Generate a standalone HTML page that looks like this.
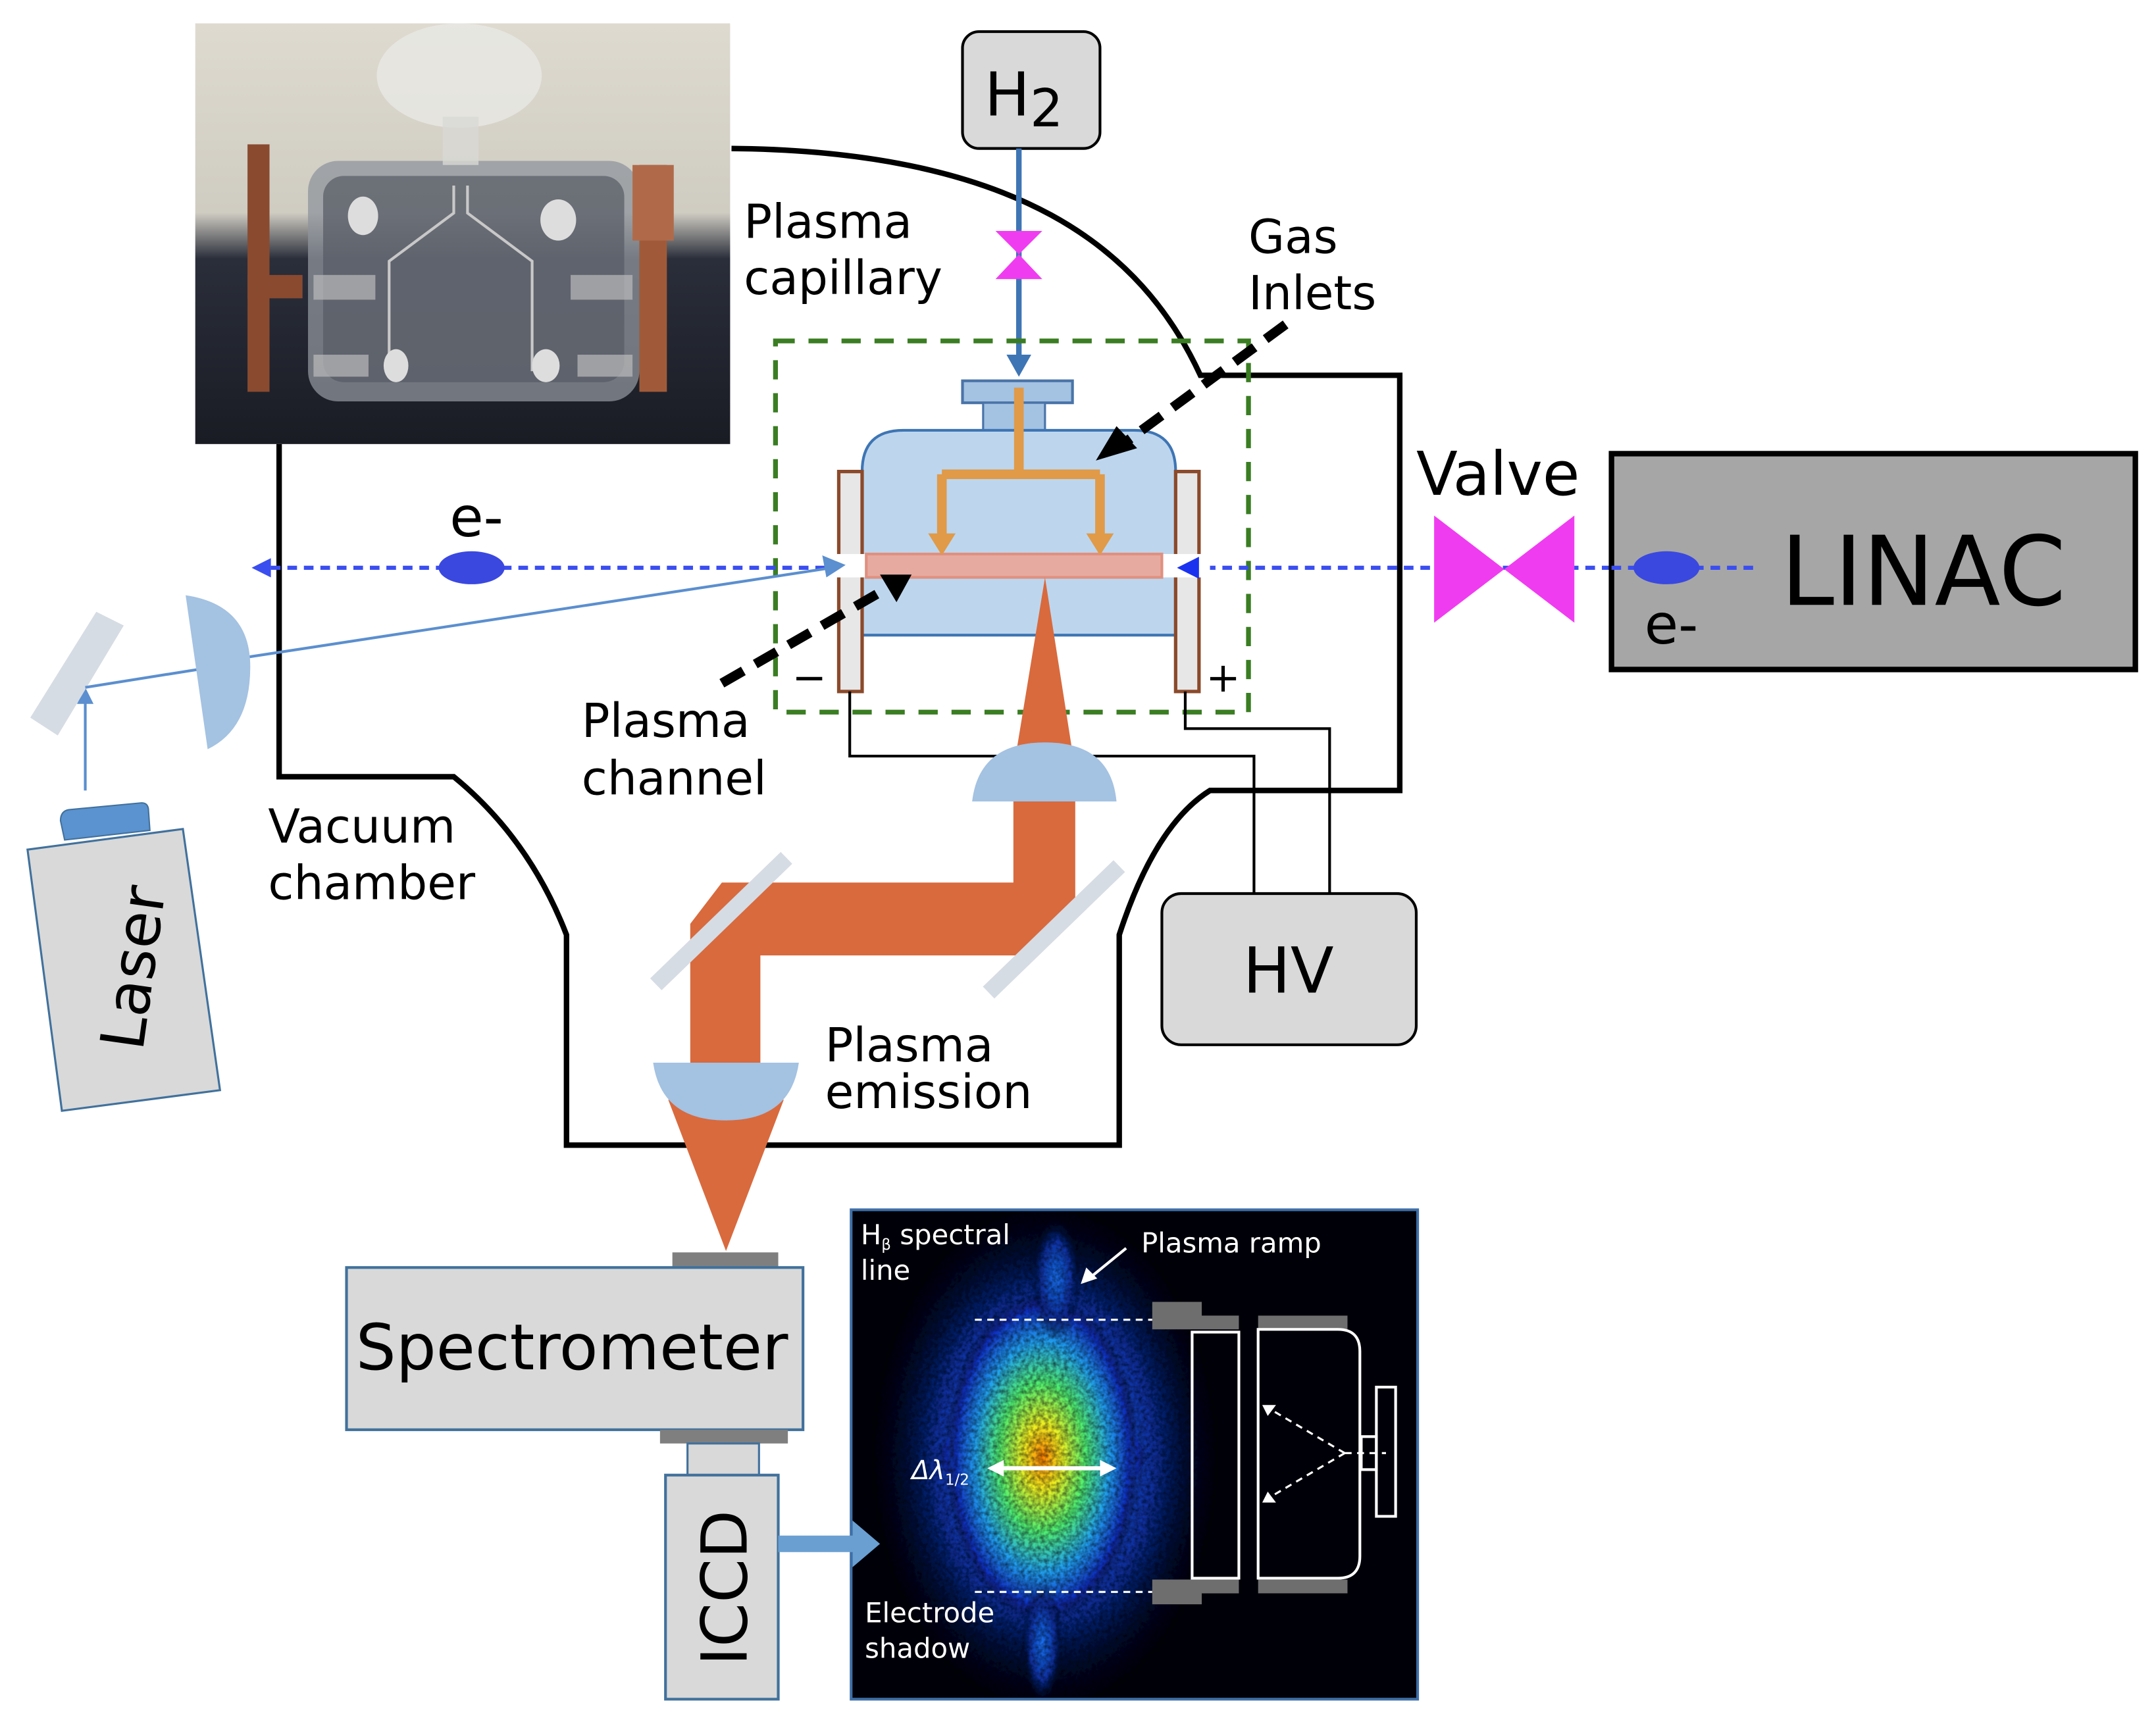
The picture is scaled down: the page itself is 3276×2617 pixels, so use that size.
<!DOCTYPE html>
<html><head><meta charset="utf-8"><style>
html,body{margin:0;padding:0;background:#fff;}
svg{display:block;}
text{font-family:"DejaVu Sans","Liberation Sans",sans-serif;}
</style></head><body>
<svg width="3276" height="2617" viewBox="0 0 1568 1252.6" xmlns="http://www.w3.org/2000/svg">
<defs>
<linearGradient id="ph" x1="0" y1="0" x2="0" y2="1">
<stop offset="0" stop-color="#dedad0"/><stop offset="0.45" stop-color="#cfccc2"/>
<stop offset="0.56" stop-color="#2a2e3a"/><stop offset="1" stop-color="#1a1c24"/></linearGradient>
<radialGradient id="b1" cx="0.5" cy="0.5" r="0.5">
<stop offset="0" stop-color="#ff8000"/><stop offset="0.2" stop-color="#f0f020"/><stop offset="0.45" stop-color="#50f070"/>
<stop offset="0.7" stop-color="#20a0f0"/><stop offset="0.9" stop-color="#1030c0"/><stop offset="1" stop-color="#000010" stop-opacity="0"/></radialGradient>
<radialGradient id="b2" cx="0.5" cy="0.5" r="0.5">
<stop offset="0" stop-color="#1870f0"/><stop offset="0.6" stop-color="#0a30a0"/><stop offset="1" stop-color="#000010" stop-opacity="0"/></radialGradient>
<filter id="nz"><feTurbulence type="fractalNoise" baseFrequency="0.35" numOctaves="2" result="n"/><feColorMatrix in="n" type="matrix" values="0 0 0 0 0  0 0 0 0 0  0 0 0 0 0  0 0 0 -1.0 1.3" result="m"/><feComposite in="SourceGraphic" in2="m" operator="in"/></filter>
<clipPath id="ic"><rect x="620" y="881" width="410" height="354"/></clipPath>
</defs>

<!-- photo -->
<rect x="142" y="17" width="389" height="306" fill="url(#ph)"/>
<rect x="224" y="117" width="241" height="175" rx="22" fill="#8f949c" opacity="0.75"/>
<rect x="235" y="128" width="219" height="150" rx="15" fill="#555a64" opacity="0.7"/>
<ellipse cx="334" cy="55" rx="60" ry="38" fill="#e8e8e4" opacity="0.8"/>
<rect x="322" y="85" width="26" height="35" fill="#d8d8d4" opacity="0.8"/>
<path d="M330,135 L330,155 L283,190 L283,270 M340,135 L340,155 L387,190 L387,270" stroke="#c8c8c8" stroke-width="2" fill="none"/>
<rect x="180" y="105" width="16" height="180" fill="#8a4a30"/><rect x="180" y="200" width="40" height="17" fill="#8a4a30"/>
<rect x="465" y="120" width="20" height="165" fill="#a05a3a"/><rect x="460" y="120" width="30" height="55" fill="#b06a4a"/>
<ellipse cx="264" cy="157" rx="11" ry="14" fill="#ddd"/><ellipse cx="406" cy="160" rx="13" ry="15" fill="#ddd"/>
<ellipse cx="288" cy="266" rx="9" ry="12" fill="#ddd"/><ellipse cx="397" cy="266" rx="10" ry="12" fill="#ddd"/>
<rect x="228" y="200" width="45" height="18" fill="#bbb" opacity="0.7"/><rect x="415" y="200" width="45" height="18" fill="#bbb" opacity="0.7"/>
<rect x="228" y="258" width="40" height="16" fill="#bbb" opacity="0.7"/><rect x="420" y="258" width="40" height="16" fill="#bbb" opacity="0.7"/>

<!-- vacuum chamber -->
<path d="M203,323 L203,565 L330,565 Q385,610 412,680 L412,833 L814,833 L814,680 Q840,600 880,575 L1018,575 L1018,273 L873,273 C830,180 740,110 532,108" fill="none" stroke="#000" stroke-width="4"/>

<!-- H2 -->
<rect x="700" y="23" width="100" height="85" rx="12" fill="#d9d9d9" stroke="#000" stroke-width="2"/>
<text x="716" y="84" font-size="44">H<tspan font-size="38" dy="8">2</tspan></text>
<line x1="741" y1="108" x2="741" y2="262" stroke="#3e75b4" stroke-width="4"/>
<path d="M732,258 L750,258 L741,274z" fill="#3e75b4"/>
<path d="M724,168 L758,168 L741,185 L758,203 L724,203 L741,185z" fill="#f03cf0"/>

<rect x="564" y="248" width="344" height="270" fill="none" stroke="#3a7d22" stroke-width="3.5" stroke-dasharray="14,10"/>

<!-- capillary -->
<rect x="700" y="277" width="80" height="16" fill="#a4c2e2" stroke="#4a74a8" stroke-width="2"/>
<rect x="715" y="293" width="45" height="20" fill="#a4c2e2" stroke="#4a74a8" stroke-width="1.5"/>
<path d="M627,462 L627,343 Q627,313 657,313 L825,313 Q855,313 855,343 L855,462z" fill="#bdd6ee" stroke="#3e75b4" stroke-width="2"/>
<rect x="610" y="343" width="17" height="160" fill="#e7e7e7" stroke="#8b4a2b" stroke-width="2.5"/>
<rect x="855" y="343" width="17" height="160" fill="#e7e7e7" stroke="#8b4a2b" stroke-width="2.5"/>
<rect x="605" y="403" width="272" height="17" fill="#fff"/>
<rect x="630" y="403" width="215" height="17" fill="#e6aaa0" stroke="#e09080" stroke-width="2"/>
<path d="M741,282 L741,345 M685,345 L800,345 M685,345 L685,390 M800,345 L800,390" stroke="#e09a48" stroke-width="7" fill="none"/>
<path d="M675,388 L695,388 L685,404z M790,388 L810,388 L800,404z" fill="#e09a48"/>

<line x1="935" y1="236" x2="818" y2="322" stroke="#000" stroke-width="7" stroke-dasharray="18,10"/>
<path d="M797,335 L812,310 L827,326z" fill="#000"/>
<line x1="525" y1="497" x2="645" y2="428" stroke="#000" stroke-width="7" stroke-dasharray="18,10"/>
<path d="M663,418 L640,418 L652,438z" fill="#000"/>

<path d="M618,503 L618,550 L912,550 L912,650 M862,503 L862,530 L967,530 L967,650" fill="none" stroke="#000" stroke-width="2"/>
<text x="576" y="503" font-size="30">−</text>
<text x="877" y="503" font-size="30">+</text>

<!-- electron beam -->
<line x1="1280" y1="413" x2="880" y2="413" stroke="#3a4ef0" stroke-width="3" stroke-dasharray="7,5"/>
<path d="M856,413 L872,405 L872,421z" fill="#1a32f0"/>
<line x1="600" y1="413" x2="195" y2="413" stroke="#3a4ef0" stroke-width="3" stroke-dasharray="7,5"/>
<path d="M183,413 L197,406 L197,420z" fill="#3a4ef0"/>
<ellipse cx="343" cy="413" rx="24" ry="12" fill="#3a48e0"/>
<text x="327" y="390" font-size="40">e-</text>

<path d="M1043,375 L1094,414 L1145,375 L1145,453 L1094,414 L1043,453z" fill="#f03cf0"/>
<text x="1030" y="360" font-size="44">Valve</text>
<rect x="1172" y="330" width="381" height="157" fill="#a6a6a6" stroke="#000" stroke-width="4"/>
<line x1="1172" y1="413" x2="1280" y2="413" stroke="#3a4ef0" stroke-width="3" stroke-dasharray="7,5"/>
<ellipse cx="1212" cy="413" rx="24" ry="12" fill="#3a48e0"/>
<text x="1295" y="440" font-size="70">LINAC</text>
<text x="1196" y="468" font-size="40">e-</text>

<!-- laser -->
<path d="M62,575 L62,510" stroke="#5b8fcf" stroke-width="2"/>
<path d="M56,512 L68,512 L62,500z" fill="#5b8fcf"/>
<path d="M42,535 L22,522 L70,445 L90,455z" fill="#d6dce4"/>
<line x1="62" y1="500" x2="150" y2="486" stroke="#5b8fcf" stroke-width="2"/>
<line x1="180" y1="478" x2="605" y2="413" stroke="#5b8fcf" stroke-width="2"/>
<path d="M615,411 L598,404 L601,420z" fill="#5b8fcf"/>
<path d="M135,433 Q182,440 182,485 Q182,530 151,545z" fill="#a4c2e2"/>
<path d="M44,597 Q44,590 50,589 L103,584 Q108,584 108,590 L109,604 L47,611z" fill="#5b93d0" stroke="#41719c" stroke-width="1"/>
<path d="M20,618 L133,603 L160,793 L45,808z" fill="#d9d9d9" stroke="#41719c" stroke-width="1.5"/>
<g transform="translate(112,706) rotate(-82)"><text font-size="44" text-anchor="middle">Laser</text></g>

<!-- emission -->
<path d="M760,420 L737,560 L782,560z" fill="#d86a3e"/>
<path d="M737,560 L782,560 L782,655 L745,695 L553,695 L553,775 L502,775 L502,672 L525,642 L737,642z" fill="#d86a3e"/>
<path d="M707,583 Q712,540 760,540 Q808,540 812,583z" fill="#a4c2e2"/>
<path d="M486,800 L570,800 L528,910z" fill="#d86a3e"/>
<path d="M475,773 L581,773 Q575,815 528,815 Q481,815 475,773z" fill="#a4c2e2"/>
<line x1="477" y1="716" x2="572" y2="624" stroke="#d6dce4" stroke-width="12"/>
<line x1="719" y1="722" x2="814" y2="630" stroke="#d6dce4" stroke-width="12"/>

<rect x="845" y="650" width="185" height="110" rx="14" fill="#d9d9d9" stroke="#000" stroke-width="2"/>
<text x="937" y="722" font-size="46" text-anchor="middle">HV</text>

<g font-size="34">
<text x="541" y="173">Plasma</text><text x="541" y="214">capillary</text>
<text x="908" y="184">Gas</text><text x="908" y="225">Inlets</text>
<text x="423" y="536">Plasma</text><text x="423" y="578">channel</text>
<text x="195" y="613">Vacuum</text><text x="195" y="654">chamber</text>
<text x="600" y="772">Plasma</text><text x="600" y="806">emission</text>
</g>

<!-- spectrometer / ICCD -->
<rect x="489" y="911" width="77" height="11" fill="#7f7f7f"/>
<rect x="252" y="922" width="332" height="118" fill="#d9d9d9" stroke="#41719c" stroke-width="2"/>
<text x="416" y="996" font-size="46" text-anchor="middle">Spectrometer</text>
<rect x="480" y="1040" width="93" height="10" fill="#7f7f7f"/>
<rect x="500" y="1050" width="52" height="23" fill="#d9d9d9" stroke="#41719c" stroke-width="1.5"/>
<rect x="484" y="1073" width="82" height="163" fill="#d9d9d9" stroke="#41719c" stroke-width="2"/>
<g transform="translate(543,1155) rotate(-90)"><text font-size="46" text-anchor="middle">ICCD</text></g>

<!-- spectral image -->
<rect x="619" y="880" width="412" height="356" fill="#000008" stroke="#3e6fa8" stroke-width="2"/>
<g clip-path="url(#ic)"><g filter="url(#nz)">
<ellipse cx="760" cy="1060" rx="130" ry="190" fill="url(#b2)"/>
<path d="M758,935 L835,1060 L758,1185 L681,1060z" fill="url(#b1)"/>
<ellipse cx="758" cy="1060" rx="70" ry="120" fill="url(#b1)"/>
<ellipse cx="768" cy="930" rx="18" ry="45" fill="url(#b2)"/>
<ellipse cx="758" cy="1195" rx="15" ry="45" fill="url(#b2)"/>
</g></g>
<rect x="566" y="1117" width="56" height="12" fill="#6a9fd2"/>
<path d="M620,1106 L640,1123 L620,1140z" fill="#6a9fd2"/>
<g stroke="#fff" stroke-width="1.5" stroke-dasharray="5,4" fill="none">
<line x1="709" y1="960" x2="838" y2="960"/><line x1="709" y1="1158" x2="838" y2="1158"/>
<path d="M978,1057 L922,1024 M978,1057 L922,1090 M978,1057 L1008,1057"/>
</g>
<path d="M918,1022 L928,1022 L922,1030z M918,1093 L928,1093 L922,1085z" fill="#fff"/>
<path d="M838,947 L874,947 L874,957 L901,957 L901,967 L838,967z M838,1149 L901,1149 L901,1159 L874,1159 L874,1167 L838,1167z" fill="#6e6e6e"/>
<rect x="915" y="957" width="65" height="10" fill="#6e6e6e"/><rect x="915" y="1149" width="65" height="10" fill="#6e6e6e"/>
<g fill="none" stroke="#fff" stroke-width="2">
<rect x="867" y="969" width="34" height="179"/>
<path d="M915,967 L973,967 Q989,967 989,983 L989,1132 Q989,1148 973,1148 L915,1148z"/>
<rect x="1001" y="1009" width="14" height="94"/><rect x="990" y="1045" width="11" height="24"/>
</g>
<line x1="726" y1="1068" x2="805" y2="1068" stroke="#fff" stroke-width="3"/>
<path d="M718,1068 L730,1062 L730,1074z M812,1068 L800,1062 L800,1074z" fill="#fff"/>
<line x1="819" y1="908" x2="792" y2="930" stroke="#fff" stroke-width="2"/>
<path d="M786,934 L790,922 L798,930z" fill="#fff"/>
<g font-family="Liberation Sans, sans-serif" fill="#fff">
<text x="626" y="905" font-size="20">H<tspan font-size="11" dy="4">β</tspan><tspan dy="-4"> spectral</tspan></text>
<text x="626" y="931" font-size="20">line</text>
<text x="830" y="911" font-size="20">Plasma ramp</text>
<text x="663" y="1076" font-size="19" font-style="italic">Δλ<tspan font-size="11" dy="4" font-style="normal">1/2</tspan></text>
<text x="629" y="1180" font-size="20">Electrode</text>
<text x="629" y="1206" font-size="20">shadow</text>
</g>
</svg>
</body></html>
